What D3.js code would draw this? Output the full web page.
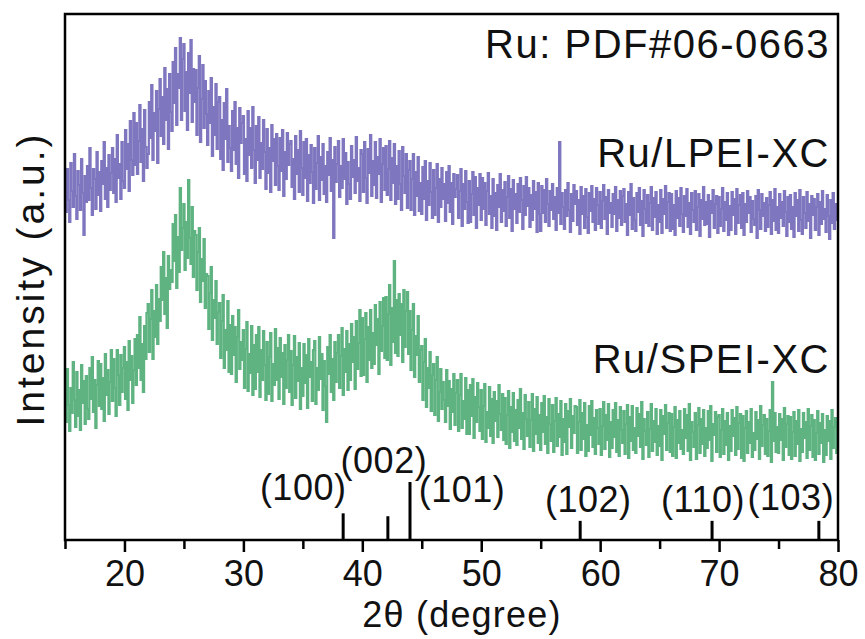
<!DOCTYPE html>
<html><head><meta charset="utf-8">
<script src="https://cdn.jsdelivr.net/npm/d3@7"></script>
<style>
html,body{margin:0;padding:0;background:#fff;}
svg text{font-family:"Liberation Sans",Arial,Helvetica,sans-serif;fill:#111;}
</style></head>
<body><svg id="chart" width="865" height="639"></svg>
<script>
// ---- data ----
const angleStart = 15, angleStep = 0.1;   // sampling grid of the scans (2θ, degree)
const xTicksMajor = [20, 30, 40, 50, 60, 70, 80];
const xTicksMinor = [15, 25, 35, 45, 55, 65, 75];
const seriesNames = ["Ru/LPEI-XC", "Ru/SPEI-XC"];
const refTitle = "Ru: PDF#06-0663";
const lpei = [
362,328,371,340,318,377,349,333,386,344,
321,369,355,330,381,347,305,364,338,374,
340,392,352,325,371,361,331,388,345,368,
329,379,356,398,341,372,333,385,350,367,
392,347,381,338,405,362,376,341,398,359,
352,410,371,396,349,419,380,365,427,375,
417,366,399,435,378,411,359,430,393,372,
386,438,402,455,380,427,409,449,377,431,
461,404,443,396,472,420,451,391,466,428,
409,478,437,492,415,466,452,502,420,481,
496,429,468,410,487,447,500,418,471,438,
470,405,452,484,398,441,475,412,459,426,
395,449,417,462,384,433,405,456,391,438,
443,381,420,370,437,401,451,378,414,392,
369,429,390,438,376,412,362,432,397,417,
424,366,401,359,429,385,412,372,433,390,
357,414,380,423,362,397,371,420,388,351,
411,367,392,348,415,379,401,355,406,374,
350,402,369,410,344,388,361,407,375,396,
399,353,381,341,404,366,390,348,409,372,
345,398,362,401,339,385,357,395,368,337,
392,351,377,404,340,383,360,396,346,374,
338,388,365,402,349,380,302,393,358,376,
399,343,374,352,401,361,387,336,378,356,
341,394,363,380,347,403,359,372,339,390,
386,348,398,362,337,391,367,405,344,379,
355,398,342,383,366,401,338,376,392,350,
394,345,371,399,340,382,357,396,336,374,
341,389,356,330,393,364,347,386,332,370,
379,330,361,386,325,368,344,383,329,357,
326,373,341,379,320,359,335,377,348,322,
370,325,352,376,318,361,333,372,341,356,
319,368,337,374,328,357,316,366,343,351,
365,322,349,371,314,356,331,369,338,317,
359,318,346,368,325,363,312,352,335,366,
320,362,331,357,315,349,367,326,344,312,
361,324,347,310,355,333,366,318,350,329,
358,314,343,364,322,351,309,360,331,346,
317,356,328,362,340,311,354,325,363,334,
352,313,345,320,359,331,348,308,357,326,
309,354,327,350,318,361,336,314,349,330,
356,321,343,310,352,327,398,316,347,333,
311,350,324,357,330,308,346,319,355,336,
349,315,340,306,353,326,344,312,351,323,
307,347,329,354,318,341,310,352,335,316,
348,312,339,355,321,343,306,350,327,337,
313,346,326,353,309,340,322,349,315,344,
351,318,336,305,348,325,356,311,342,320,
309,347,328,352,315,339,304,350,331,317,
345,314,337,353,310,342,323,348,306,335,
318,350,307,341,326,354,312,338,347,309,
346,311,335,305,349,322,342,314,352,326,
308,344,324,351,313,337,306,347,330,318,
349,310,333,346,304,340,321,353,315,338,
316,345,303,339,327,350,312,336,344,307,
343,314,331,352,309,338,320,347,305,334,
310,348,325,341,306,351,317,335,345,312,
347,305,336,318,349,327,343,308,339,321,
315,344,302,350,330,311,346,324,337,309,
342,313,335,348,306,340,319,351,310,333,
307,346,322,338,314,349,328,304,343,318,
345,311,333,303,347,324,340,309,350,320,
306,343,327,312,348,319,336,302,344,325,
341,310,333,346,305,338,316,349,321,331,
308,345,324,301,340,317,347,311,336,320,
322];
const spei = [
160,118,171,135,109,152,127,178,140,113,
168,124,150,110,175,137,159,116,164,131,
121,172,141,183,128,160,112,155,179,134,
176,131,162,119,186,145,170,126,158,190,
139,181,152,124,190,165,135,185,148,172,
193,141,178,130,199,160,184,137,170,201,
155,205,172,223,160,196,148,214,181,227,
236,188,221,250,181,229,203,255,196,241,
219,273,240,288,226,262,212,284,251,270,
258,316,279,325,252,303,268,352,290,312,
336,270,318,282,360,302,276,333,263,309,
305,250,288,312,238,281,259,301,232,266,
264,211,247,273,200,240,222,259,196,228,
237,182,219,245,172,210,190,239,168,215,
166,224,185,213,158,203,230,171,198,180,
210,152,191,218,149,186,167,214,145,195,
151,205,168,213,143,190,160,209,175,140,
198,146,183,207,139,176,155,211,160,192,
141,202,163,187,136,195,152,180,205,148,
189,135,175,204,142,183,159,197,131,172,
144,196,157,185,132,201,163,178,139,190,
199,136,172,150,203,161,186,130,179,154,
118,193,166,205,148,181,140,198,158,187,
205,152,184,212,145,191,168,209,150,196,
160,216,178,203,151,219,171,197,230,164,
222,165,201,227,158,213,180,230,172,207,
176,235,195,221,166,238,189,214,242,182,
243,180,226,255,175,232,198,279,187,240,
184,246,205,236,178,250,193,229,248,186,
229,170,210,236,163,204,185,224,158,190,
194,140,178,201,133,172,152,188,129,165,
176,125,160,183,119,148,171,131,158,140,
118,170,134,159,111,151,128,166,115,147,
160,109,145,166,112,139,121,162,106,150,
106,155,124,161,102,143,118,157,133,109,
150,101,134,156,98,128,112,153,104,141,
97,148,119,139,103,155,126,110,146,100,
142,96,125,149,92,133,108,147,99,130,
95,140,112,151,101,127,91,145,121,104,
138,93,120,146,89,131,106,143,97,125,
90,137,108,144,96,123,87,141,116,99,
135,88,119,142,94,126,103,139,85,121,
98,136,86,129,113,141,92,124,107,134,
133,87,118,140,90,127,101,137,84,115,
89,134,105,139,93,122,86,130,112,96,
131,85,114,138,91,125,100,136,83,118,
92,130,103,137,88,120,84,133,110,97,
129,86,116,135,82,123,99,134,90,112,
87,132,104,126,93,138,81,121,109,95,
128,83,111,136,89,119,98,131,85,114,
94,130,80,124,106,135,90,117,127,88,
126,84,113,133,82,120,97,129,91,110,
86,131,102,125,89,136,80,118,108,93,
127,81,115,132,87,121,96,130,84,112,
92,129,100,134,79,116,105,128,88,123,
125,83,110,131,86,119,95,127,80,114,
89,130,104,122,85,133,91,117,126,82,
124,79,112,129,87,118,97,131,83,107,
90,128,101,120,81,134,94,115,125,86,
121,84,109,130,78,158,99,127,88,113,
87,126,100,121,80,132,93,116,124,85,
123,81,108,128,84,119,96,130,79,111,
88,127,102,118,82,131,90,114,125,83,
120,80,107,129,86,117,97,126,78,110,
85,124,99,119,81,130,92,113,122,87,
104];
// Ru reference pattern (PDF#06-0663)
const refAngles = [38.39, 42.15, 44.01, 58.32, 69.41, 78.39];
const refIntensity = [46, 41, 100, 33, 33, 33];
const refLabels = ["(100)", "(002)", "(101)", "(102)", "(110)", "(103)"];

// ---- layout ----
const W = 865, H = 639;
const plot = {left: 65, right: 838, top: 14, bottom: 540};
const labelDx = [-40, -4, 52, 8, -9, -28];
const labelY = [500, 473, 502, 512, 512, 510];
const colors = {lpei: "#7e76be", spei: "#5eb381"};

const svg = d3.select("#chart");
const x = d3.scaleLinear().domain([15, 80]).range([plot.left, plot.right]);
const y = d3.scaleLinear().domain([0, 526]).range([plot.bottom, plot.top]);
const yRef = d3.scaleLinear().domain([0, 100]).range([plot.bottom, plot.bottom - 58]);

const line = d3.line().curve(d3.curveStep)
  .x((d, i) => x(angleStart + i * angleStep)).y(d => y(d));

svg.append("defs").append("clipPath").attr("id", "clip")
  .append("rect").attr("x", plot.left).attr("y", plot.top)
  .attr("width", plot.right - plot.left).attr("height", plot.bottom - plot.top);

const g = svg.append("g").attr("clip-path", "url(#clip)");
g.append("path").datum(lpei).attr("d", line).attr("fill", "none")
  .attr("stroke", colors.lpei).attr("stroke-width", 2.2);
g.append("path").datum(spei).attr("d", line).attr("fill", "none")
  .attr("stroke", colors.spei).attr("stroke-width", 2.2);

// reference sticks
svg.append("g").selectAll("line").data(refAngles).join("line")
  .attr("x1", d => x(d)).attr("x2", d => x(d))
  .attr("y1", y(0)).attr("y2", (d, i) => yRef(refIntensity[i]))
  .attr("stroke", "#000").attr("stroke-width", 3);
svg.append("g").selectAll("text").data(refLabels).join("text")
  .attr("x", (d, i) => x(refAngles[i]) + labelDx[i]).attr("y", (d, i) => labelY[i])
  .attr("text-anchor", "middle").attr("font-size", 36).attr("letter-spacing", 0.5).text(d => d);

// axes
const axMajor = d3.axisBottom(x).tickValues(xTicksMajor).tickSize(12).tickPadding(8).tickFormat(d3.format("d"));
const axMinor = d3.axisBottom(x).tickValues(xTicksMinor).tickSize(9).tickFormat("");
const gMaj = svg.append("g").attr("transform", `translate(0,${plot.bottom})`).call(axMajor);
const gMin = svg.append("g").attr("transform", `translate(0,${plot.bottom})`).call(axMinor);
[gMaj, gMin].forEach(a => {
  a.select(".domain").remove();
  a.selectAll(".tick line").attr("stroke", "#000").attr("stroke-width", 2.5);
});
gMaj.selectAll(".tick text").attr("font-size", 36).attr("font-family", '"Liberation Sans",Arial,sans-serif').attr("fill", "#111");

// frame
svg.append("rect").attr("x", plot.left).attr("y", plot.top)
  .attr("width", plot.right - plot.left).attr("height", plot.bottom - plot.top)
  .attr("fill", "none").attr("stroke", "#000").attr("stroke-width", 2.5);

// titles
svg.append("text").attr("x", 462).attr("y", 627).attr("text-anchor", "middle")
  .attr("font-size", 36).attr("letter-spacing", 1.2).text("2θ (degree)");
svg.append("text").attr("transform", "translate(44,279) rotate(-90)").attr("text-anchor", "middle")
  .attr("font-size", 39).attr("letter-spacing", 3).text("Intensity (a.u.)");

// annotations
svg.append("text").attr("x", 830).attr("y", 58).attr("text-anchor", "end")
  .attr("font-size", 40).attr("letter-spacing", 1.5).text(refTitle);
svg.append("text").attr("x", 830).attr("y", 167).attr("text-anchor", "end")
  .attr("font-size", 40).attr("letter-spacing", 1.5).text(seriesNames[0]);
svg.append("text").attr("x", 830).attr("y", 373).attr("text-anchor", "end")
  .attr("font-size", 40).attr("letter-spacing", 1.5).text(seriesNames[1]);
</script></body></html>
